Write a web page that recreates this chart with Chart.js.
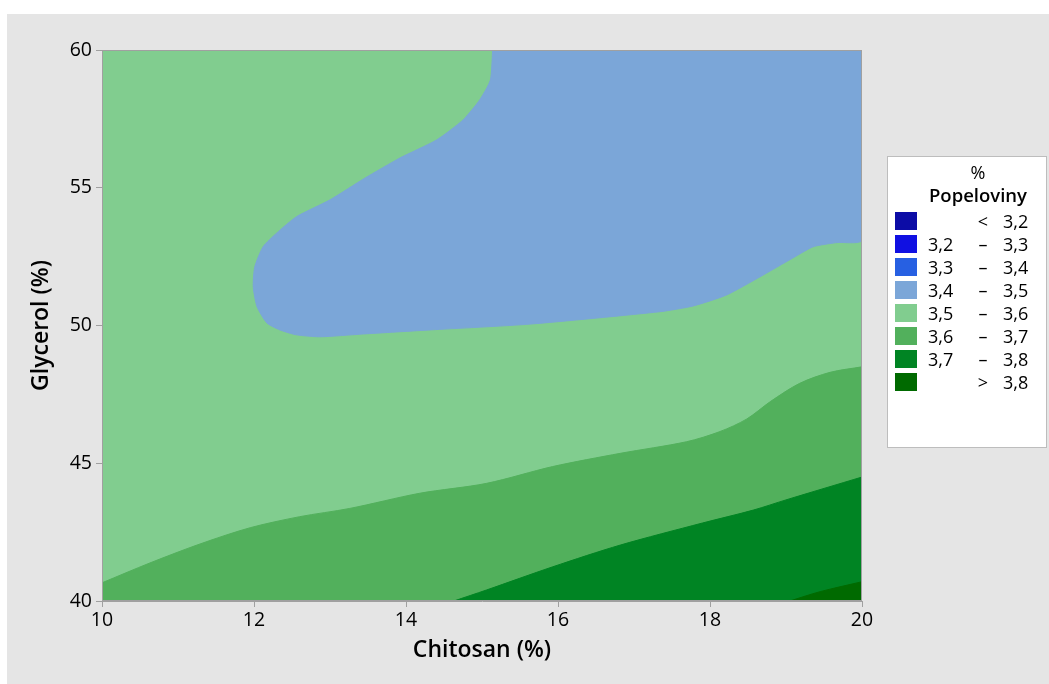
<!DOCTYPE html>
<html>
<head>
<meta charset="utf-8">
<script src="https://cdn.jsdelivr.net/npm/chart.js@4.4.1/dist/chart.umd.min.js"></script>
<style>
  html, body { margin: 0; padding: 0; background: #ffffff; }
  #wrap { position: relative; width: 1049px; height: 684px; overflow: hidden; }
  #bg { position: absolute; left: 7px; top: 14px; right: 0; bottom: 0; background: #e5e5e5; }
  #chart { position: absolute; left: 0; top: 0; }
  #legend { position: absolute; left: 887px; top: 156px; width: 158px; height: 290px;
            background: #fff; border: 1px solid #bdbdbd; font-family: "Open Sans", sans-serif; color: #000; }
  #legend .t1 { position: absolute; left: 0; width: 180px; text-align: center; top: 3px; font-size: 18px; }
  #legend .t2 { position: absolute; left: 0; width: 180px; text-align: center; top: 25px; font-size: 18.5px; font-weight: 600; }
  #legend .row { position: absolute; left: 0; width: 158px; height: 18px; font-size: 18px; line-height: 18px; }
  #legend .sw { position: absolute; left: 7px; top: 0; width: 22px; height: 18px; }
  #legend .lo { position: absolute; left: 40px; }
  #legend .op { position: absolute; left: 88px; width: 14px; text-align: center; }
  #legend .hi { position: absolute; left: 115px; }
</style>
</head>
<body>
<div id="wrap">
  <div id="bg"></div>
  <canvas id="chart" width="1049" height="684"></canvas>
  <div id="legend"></div>
</div>
<script>
// Contour plot of % Popeloviny over Chitosan (%) x Glycerol (%)

const xTicks = [10, 12, 14, 16, 18, 20];
const yTicks = [40, 45, 50, 55, 60];

// legend classes
const legendLo = ['', '3,2', '3,3', '3,4', '3,5', '3,6', '3,7', ''];
const legendOp = ['<', '–', '–', '–', '–', '–', '–', '>'];
const legendHi = ['3,2', '3,3', '3,4', '3,5', '3,6', '3,7', '3,8', '3,8'];
const legendColors = ['#0c0ca6', '#1010e2', '#2760e2', '#7ba6d8', '#81cd8f', '#52b05c', '#008423', '#006a00'];

// 3,5 – 3,6 band: whole plot, top edge
const topEdgeX = [10, 20];
const topEdgeY = [60, 60];

// 3,4 – 3,5 region (closed outline)
const blueX = [15.14, 15.11, 14.97, 14.75, 14.40, 13.92, 13.46, 13.00, 12.56, 12.30, 12.12, 12.01, 11.99, 12.04, 12.17, 12.34, 12.56, 12.87, 13.43, 14.32, 15.63, 17.34, 17.78, 18.22, 18.66, 19.09, 19.36, 19.67, 20.0, 20.0];
const blueY = [60.0, 58.91, 58.19, 57.46, 56.73, 56.08, 55.35, 54.56, 53.95, 53.36, 52.86, 52.13, 51.41, 50.68, 50.09, 49.84, 49.66, 49.59, 49.69, 49.84, 50.05, 50.50, 50.71, 51.11, 51.77, 52.45, 52.86, 53.01, 53.10, 60.0];

// upper edge of 3,6 – 3,7 band
const band36X = [10, 10.63, 11.29, 11.95, 12.6, 13.26, 14.18, 15.06, 15.93, 16.82, 17.69, 18.13, 18.48, 18.8, 19.18, 19.58, 20];
const band36Y = [40.66, 41.38, 42.07, 42.66, 43.06, 43.36, 43.91, 44.27, 44.88, 45.36, 45.78, 46.15, 46.6, 47.25, 47.9, 48.3, 48.5];

// upper edge of 3,7 – 3,8 band
const band37X = [14.63, 15.06, 15.93, 16.82, 17.9, 18.57, 19.0, 20];
const band37Y = [40.0, 40.40, 41.24, 42.03, 42.83, 43.3, 43.67, 44.5];

// upper edge of > 3,8 region
const band38X = [19.05, 19.45, 20];
const band38Y = [40.0, 40.34, 40.7];

function pts(xs, ys) { return xs.map((x, i) => ({ x: x, y: ys[i] })); }

function region(data, color, fill, order, tension) {
  return {
    data: data, showLine: true, fill: fill, order: order,
    backgroundColor: color, borderColor: color, borderWidth: 1,
    pointRadius: 0, pointHoverRadius: 0, tension: tension
  };
}

const frame = {
  id: 'frame',
  afterDatasetsDraw(chart) {
    const { ctx, chartArea: a } = chart;
    ctx.save();
    ctx.strokeStyle = '#a0a0a0';
    ctx.lineWidth = 1;
    ctx.strokeRect(a.left + 0.5, a.top + 0.5, a.right - a.left - 1, a.bottom - a.top - 1);
    ctx.restore();
  }
};

new Chart(document.getElementById('chart').getContext('2d'), {
  type: 'scatter',
  data: {
    datasets: [
      region(pts(band38X, band38Y), '#006a00', 'start', 1, 0.3),
      region(pts(band37X, band37Y), '#008423', 'start', 2, 0.3),
      region(pts(band36X, band36Y), '#52b05c', 'start', 3, 0.3),
      region(pts(blueX, blueY), '#7ba6d8', 'shape', 4, 0.2),
      region(pts(topEdgeX, topEdgeY), '#81cd8f', 'start', 5, 0)
    ]
  },
  options: {
    responsive: false,
    animation: false,
    events: [],
    layout: { padding: { left: 0, right: 187, top: 50, bottom: 0 } },
    plugins: { legend: { display: false }, tooltip: { enabled: false } },
    scales: {
      x: {
        type: 'linear', min: 10, max: 20,
        afterFit(s) { s.height = 83; },
        afterBuildTicks(s) { s.ticks = xTicks.map(v => ({ value: v })); },
        grid: { drawOnChartArea: false, drawTicks: true, tickLength: 6, color: '#a0a0a0' },
        border: { color: '#a0a0a0' },
        ticks: { color: '#000', padding: 2, font: { family: 'Open Sans', size: 19.5 } },
        title: { display: true, text: 'Chitosan (%)', color: '#000', padding: { top: 0, bottom: 20 },
                 font: { family: 'Open Sans', size: 23, weight: '600' } }
      },
      y: {
        type: 'linear', min: 40, max: 60,
        afterFit(s) { s.width = 102; },
        afterBuildTicks(s) { s.ticks = yTicks.map(v => ({ value: v })); },
        grid: { drawOnChartArea: false, drawTicks: true, tickLength: 6, color: '#a0a0a0' },
        border: { color: '#a0a0a0' },
        ticks: { color: '#000', padding: 4, font: { family: 'Open Sans', size: 19.5 } },
        title: { display: true, text: 'Glycerol (%)', color: '#000', padding: { top: 28, bottom: 0 },
                 font: { family: 'Open Sans', size: 23, weight: '600' } }
      }
    }
  },
  plugins: [frame]
});

// legend box
const lg = document.getElementById('legend');
let html = '<div class="t1">%</div><div class="t2">Popeloviny</div>';
legendHi.forEach((hi, i) => {
  html += '<div class="row" style="top:' + (55 + i * 23) + 'px">' +
    '<div class="sw" style="background:' + legendColors[i] + '"></div>' +
    '<span class="lo">' + legendLo[i] + '</span>' +
    '<span class="op">' + legendOp[i] + '</span>' +
    '<span class="hi">' + hi + '</span></div>';
});
lg.innerHTML = html;
</script>
</body>
</html>
